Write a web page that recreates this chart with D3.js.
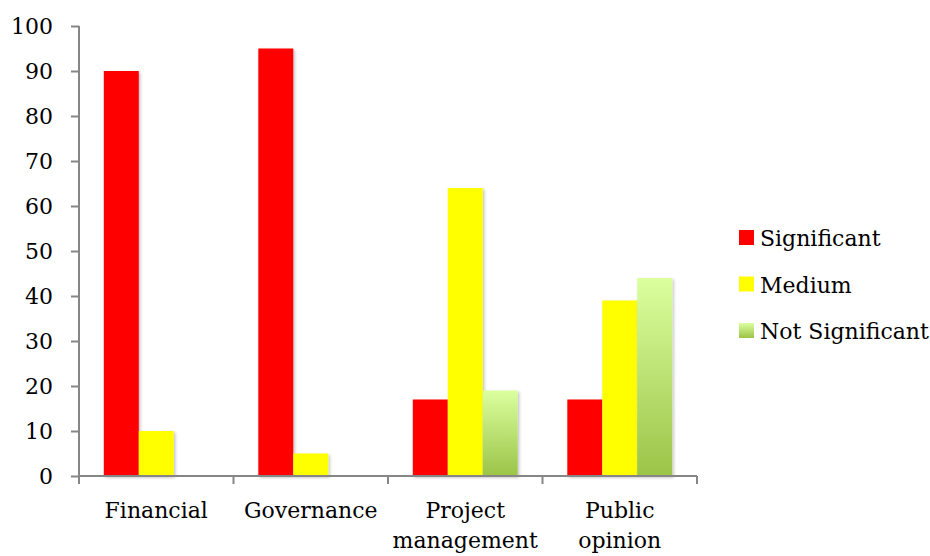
<!DOCTYPE html>
<html><head><meta charset="utf-8">
<script src="https://cdn.jsdelivr.net/npm/d3@7"></script>
<style>body{margin:0;background:#fff}svg{display:block}text{font-family:"DejaVu Serif",serif;fill:#000}</style>
</head><body>
<script>
const categories = [["Financial"], ["Governance"], ["Project", "management"], ["Public", "opinion"]];
const seriesNames = ["Significant", "Medium", "Not Significant"];
const significant = [90, 95, 17, 17];
const medium = [10, 5, 64, 39];
const notSignificant = [null, null, 19, 44];
const yTicks = [0, 10, 20, 30, 40, 50, 60, 70, 80, 90, 100];

const W = 930, H = 556;
const svg = d3.select("body").append("svg").attr("width", W).attr("height", H);
const defs = svg.append("defs");
const grad = defs.append("linearGradient").attr("id", "gGreen").attr("x1", 0).attr("y1", 0).attr("x2", 0).attr("y2", 1);
grad.append("stop").attr("offset", "0%").attr("stop-color", "#dbff9e");
grad.append("stop").attr("offset", "100%").attr("stop-color", "#9bc448");
const f = defs.append("filter").attr("id", "shadow").attr("x", "-20%").attr("y", "-20%").attr("width", "150%").attr("height", "150%");
f.append("feDropShadow").attr("dx", 1.5).attr("dy", 1.5).attr("stdDeviation", 1.8).attr("flood-color", "#000").attr("flood-opacity", 0.25);

const colors = ["#ff0000", "#ffff00", "url(#gGreen)"];
const seriesVals = [significant, medium, notSignificant];

const x0 = d3.scaleBand().domain(d3.range(categories.length)).range([79, 697]).paddingInner(0).paddingOuter(0);
const x1 = d3.scaleBand().domain(d3.range(seriesNames.length)).range([0, x0.bandwidth()]).paddingInner(0).paddingOuter(0.71);
const y = d3.scaleLinear().domain([0, 100]).range([476, 26]);

// bars
const gBars = svg.append("g");
categories.forEach((c, i) => {
  seriesVals.forEach((vals, s) => {
    const v = vals[i];
    if (v == null) return;
    gBars.append("rect")
      .attr("x", x0(i) + x1(s))
      .attr("y", y(v))
      .attr("width", x1.bandwidth())
      .attr("height", y(0) - y(v))
      .attr("fill", colors[s])
      .attr("filter", "url(#shadow)");
  });
});

// y axis
const yAxis = d3.axisLeft(y).tickValues(yTicks).tickSize(8).tickPadding(18).tickFormat(d3.format("d"));
const gy = svg.append("g").attr("transform", "translate(79,0)").call(yAxis);
gy.select(".domain").attr("stroke", "#868686").attr("stroke-width", 2).attr("d", `M0,${y(100)}V${y(0)}`);
gy.selectAll(".tick line").attr("stroke", "#868686").attr("stroke-width", 2);
gy.selectAll(".tick text").style("font-family", "DejaVu Serif").style("font-size", "22px").attr("fill", "#000");

// x axis
const gx = svg.append("g");
gx.append("line").attr("x1", 79).attr("x2", 697).attr("y1", y(0)).attr("y2", y(0)).attr("stroke", "#868686").attr("stroke-width", 2);
d3.range(categories.length + 1).forEach(i => {
  const xx = i < categories.length ? x0(i) : x0(categories.length - 1) + x0.bandwidth();
  gx.append("line").attr("x1", xx).attr("x2", xx).attr("y1", y(0)).attr("y2", y(0) + 8).attr("stroke", "#868686").attr("stroke-width", 2);
});
categories.forEach((lines, i) => {
  const t = gx.append("text").attr("text-anchor", "middle").style("font-size", "22px");
  lines.forEach((ln, k) => {
    t.append("tspan").attr("x", x0(i) + x0.bandwidth() / 2).attr("y", 518 + k * 30).text(ln);
  });
});

// legend
const legend = svg.append("g");
seriesNames.forEach((n, s) => {
  const ly = 238 + s * 46.5;
  legend.append("rect").attr("x", 739).attr("y", ly - 8).attr("width", 15).attr("height", 15).attr("fill", colors[s]);
  legend.append("text").attr("x", 760).attr("y", ly + 8).style("font-size", "22px").text(n);
});
</script>
</body></html>
